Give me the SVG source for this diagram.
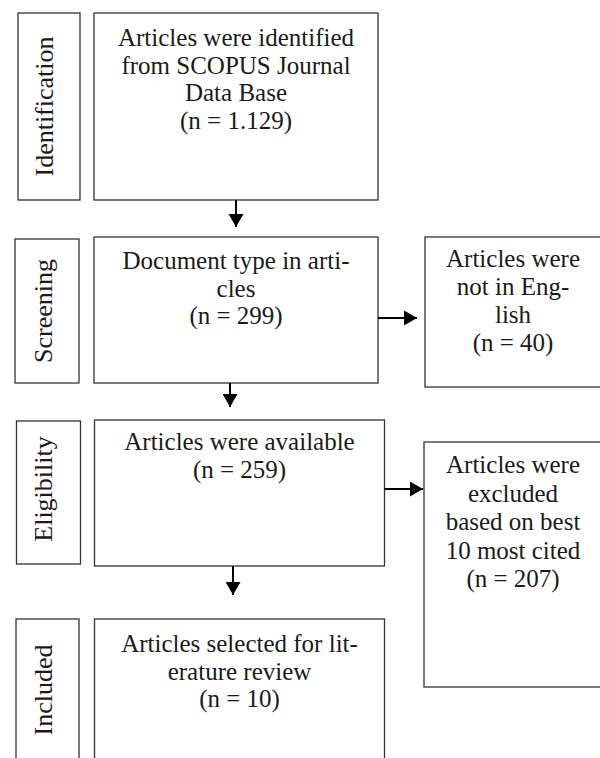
<svg xmlns="http://www.w3.org/2000/svg" width="600" height="758" viewBox="0 0 600 758">
<style>
  .box { fill: #ffffff; stroke: #333333; stroke-width: 1.3; }
  .t { font-family: "Liberation Serif", "Times New Roman", serif; font-size: 25px; fill: #1a1a1a; text-anchor: middle; }
  .lab { font-family: "Liberation Serif", "Times New Roman", serif; font-size: 26px; fill: #1a1a1a; text-anchor: middle; }
  .conn { stroke: #000000; stroke-width: 2; fill: none; }
</style>
<defs>
  <marker id="ah" markerUnits="userSpaceOnUse" markerWidth="14" markerHeight="15" refX="13" refY="7.5" orient="auto">
    <path d="M0,0 L13,7.5 L0,15 Z" fill="#000000"/>
  </marker>
</defs>
<rect width="600" height="758" fill="#ffffff"/>

<g id="label-identification">
  <rect class="box" x="18" y="13" width="62" height="187"/>
  <text class="lab" transform="translate(53,106.5) rotate(-90)">Identification</text>
</g>
<g id="label-screening">
  <rect class="box" x="15" y="239" width="64" height="144"/>
  <text class="lab" transform="translate(52,311) rotate(-90)">Screening</text>
</g>
<g id="label-eligibility">
  <rect class="box" x="16.5" y="421" width="64" height="143"/>
  <text class="lab" transform="translate(52,489) rotate(-90)">Eligibility</text>
</g>
<g id="label-included">
  <rect class="box" x="16" y="619" width="63" height="145"/>
  <text class="lab" transform="translate(52,690) rotate(-90)">Included</text>
</g>

<g id="node-identified">
  <rect class="box" x="94" y="13" width="284" height="187"/>
  <text class="t" x="236" y="46">Articles were identified</text>
  <text class="t" x="236" y="73.5">from SCOPUS Journal</text>
  <text class="t" x="236" y="101">Data Base</text>
  <text class="t" x="236" y="128.5">(n = 1.129)</text>
</g>
<g id="node-screening">
  <rect class="box" x="94" y="237" width="284" height="146"/>
  <text class="t" x="236" y="269">Document type in arti-</text>
  <text class="t" x="236" y="296.5">cles</text>
  <text class="t" x="236" y="324">(n = 299)</text>
</g>
<g id="node-not-english">
  <rect class="box" x="425" y="237" width="177" height="150"/>
  <text class="t" x="513" y="267">Articles were</text>
  <text class="t" x="513" y="295">not in Eng-</text>
  <text class="t" x="513" y="323">lish</text>
  <text class="t" x="513" y="351">(n = 40)</text>
</g>
<g id="node-available">
  <rect class="box" x="94.5" y="420" width="290" height="146"/>
  <text class="t" x="239.5" y="450">Articles were available</text>
  <text class="t" x="239.5" y="478">(n = 259)</text>
</g>
<g id="node-excluded">
  <rect class="box" x="424" y="442" width="178" height="245"/>
  <text class="t" x="513" y="473">Articles were</text>
  <text class="t" x="513" y="501.5">excluded</text>
  <text class="t" x="513" y="530">based on best</text>
  <text class="t" x="513" y="558.5">10 most cited</text>
  <text class="t" x="513" y="587">(n = 207)</text>
</g>
<g id="node-included">
  <rect class="box" x="94.5" y="619" width="290" height="145"/>
  <text class="t" x="239.5" y="652">Articles selected for lit-</text>
  <text class="t" x="239.5" y="679.5">erature review</text>
  <text class="t" x="239.5" y="707">(n = 10)</text>
</g>

<g id="connectors">
  <line class="conn" x1="236" y1="200" x2="236" y2="227" marker-end="url(#ah)"/>
  <line class="conn" x1="230" y1="383" x2="230" y2="407" marker-end="url(#ah)"/>
  <line class="conn" x1="233" y1="566" x2="233" y2="595" marker-end="url(#ah)"/>
  <line class="conn" x1="378" y1="318" x2="417" y2="318" marker-end="url(#ah)"/>
  <line class="conn" x1="384.5" y1="489" x2="423" y2="489" marker-end="url(#ah)"/>
</g>
</svg>
